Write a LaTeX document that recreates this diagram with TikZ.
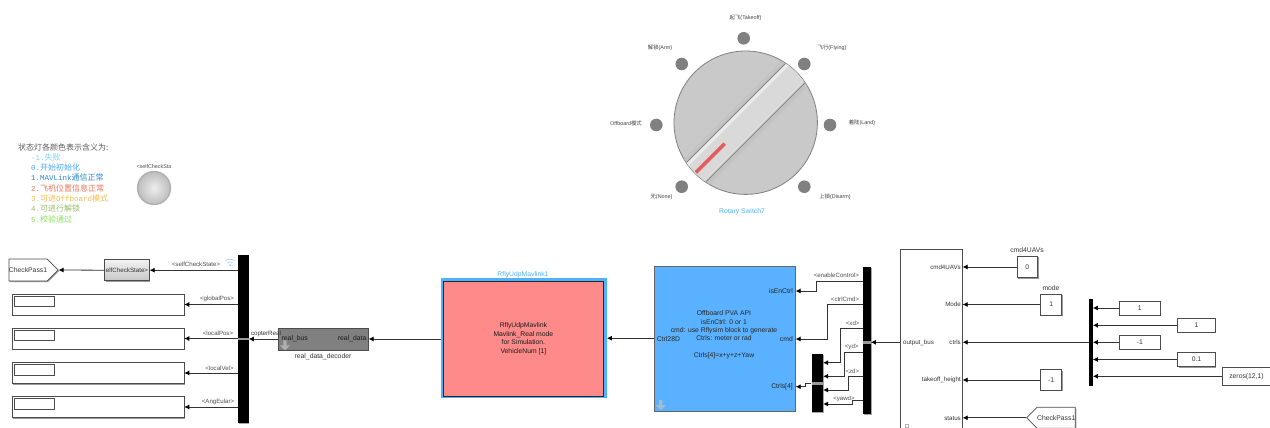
\documentclass[tikz,border=0pt]{standalone}
\usepackage{fontspec}
\setmainfont{Liberation Sans}
\setmonofont{Liberation Mono}
\newfontfamily\cjk{Noto Sans CJK SC}
\usetikzlibrary{arrows.meta,shapes.symbols,shapes.arrows,shadows}
\newcommand{\lblfont}{\fontsize{6.8}{8.4}\selectfont}
\newcommand{\sigfont}{\fontsize{6.1}{7}\selectfont}
\newcommand{\tinyfont}{\fontsize{5.4}{6.5}\selectfont}
\newcommand{\legendfont}{\fontsize{7.5}{8}\selectfont\ttfamily}
\newcommand{\zh}[1]{{\cjk\fontsize{8}{8}\selectfont #1}}
\newcommand{\zhs}[1]{{\cjk\fontsize{5.4}{6}\selectfont #1}}
\definecolor{hiblue}{HTML}{4DB2FF}
\definecolor{blockblue}{HTML}{5AB1FF}
\definecolor{blockred}{HTML}{FF8A8A}
\definecolor{wirecol}{HTML}{333333}
\definecolor{legA}{HTML}{7FD0F0}
\definecolor{legB}{HTML}{45A8FF}
\definecolor{legC}{HTML}{2A86D8}
\definecolor{legD}{HTML}{E2745A}
\definecolor{legE}{HTML}{F2BC4E}
\definecolor{legF}{HTML}{93BC66}
\definecolor{legG}{HTML}{84E056}
\begin{document}
\begin{tikzpicture}[x=1pt, y=-1pt, font=\lblfont, text=black!80,
  sz/.style 2 args={minimum width=#1, minimum height=#2, inner sep=0pt},
  blk/.style={draw=black!70, line width=0.7pt, fill=white, drop shadow={shadow xshift=1pt, shadow yshift=-1pt, fill=black!40, opacity=1}},
  busbar/.style={fill=black, draw=none, drop shadow={shadow xshift=0.8pt, shadow yshift=-0.8pt, fill=black!35, opacity=1}},
  wire/.style={draw=wirecol, line width=0.8pt, -{Latex[length=5pt, width=5pt, black]}},
  sig/.style={font=\sigfont, inner sep=0pt, text=black!70},
  legend/.style={anchor=west, inner sep=0pt, font=\legendfont},
  dot/.style={circle, fill=black!50, minimum size=12.6pt, inner sep=0pt},
  dial/.style={font=\tinyfont, inner sep=0pt, text=black!75},
  portbar/.style={fill=black!40, draw=none, minimum width=10.6pt, minimum height=2.8pt, inner sep=0pt},
  downicon/.style={single arrow, shape border rotate=270, fill=black!25, fill opacity=0.75, minimum width=10pt, minimum height=10pt, inner sep=0.5pt, single arrow head extend=1.5pt}]
\clip (0,0) rectangle (1270,428);

\node[legend, text=black!65] (legTitle) at (18,147) {\zh{状态灯各颜色表示含义为:}};
\node[legend, text=legA] (legOne) at (31,157) {-1.\zh{失败}};
\node[legend, text=legB] (legTwo) at (31,167.5) {0.\zh{开始初始化}};
\node[legend, text=legC] (legThree) at (31,177.5) {1.MAVLink\zh{通信正常}};
\node[legend, text=legD] (legFour) at (31,188) {2.\zh{飞机位置信息正常}};
\node[legend, text=legE] (legFive) at (31,198) {3.\zh{可进}Offboard\zh{模式}};
\node[legend, text=legF] (legSix) at (31,208.5) {4.\zh{可进行解锁}};
\node[legend, text=legG] (legSeven) at (31,219) {5.\zh{校验通过}};
\node[circle, inner color=black!7, outer color=black!26, draw=black!32, line width=1.2pt, minimum size=33pt, inner sep=0pt] (lamp) at (154,188) {};
\node[sig, font=\tinyfont] (lampLabel) at (154,166.7) {<selfCheckSta};

\node[circle, draw=black!50, line width=0.8pt, fill=black!21, minimum size=143.4pt, inner sep=0pt] (disk) at (745.7,122.7) {};
\begin{scope}
\clip (745.7,122.7) circle[radius=71.3];
\begin{scope}[shift={(745.7,122.7)}, rotate=45]
\fill[black!24] (-80,-18) rectangle (80,18);
\fill[black!15] (-80,-13.7) rectangle (80,13.7);
\fill[black!8] (-80,-13.7) rectangle (80,-10);
\draw[black!48, line width=0.8pt] (-80,13.7) -- (80,13.7) (-80,-13.7) -- (80,-13.7);
\draw[draw=red!60!white!90!black, line width=3.6pt] (-70.5,0) -- (-29.7,0);
\end{scope}
\end{scope}
\node[dot] (dotTakeoff) at (743.7,38.3) {};
\node[dot] (dotFlying) at (804.3,64) {};
\node[dot] (dotLand) at (830,125) {};
\node[dot] (dotDisarm) at (804.3,186.7) {};
\node[dot] (dotNone) at (681.7,186.7) {};
\node[dot] (dotOffboard) at (656.3,125) {};
\node[dot] (dotArm) at (681.7,64) {};
\node[dial] (lblTakeoff) at (745.5,17.5) {\zhs{起飞}(Takeoff)};
\node[dial] (lblFlying) at (832,48) {\zhs{飞行}(Flying)};
\node[dial] (lblLand) at (862,123) {\zhs{着陆}(Land)};
\node[dial] (lblDisarm) at (835,197) {\zhs{上锁}(Disarm)};
\node[dial] (lblNone) at (661.5,197) {\zhs{无}(None)};
\node[dial] (lblOffboard) at (626,123) {Offboard\zhs{模式}};
\node[dial] (lblArm) at (660,48) {\zhs{解锁}(Arm)};
\node[inner sep=0pt, text=hiblue] (lblRotary) at (742,212) {Rotary Switch7};

\node[busbar, sz={10.6pt}{167.7pt}] (busCopter) at (243.3,338.9) {};
\node[portbar] (portCopter) at (243.3,339) {};
\node[blk, signal, signal to=east, sz={48pt}{22pt}, font=\lblfont] (gotoPass) at (28,270) {CheckPass1};
\node[blk, sz={44.6pt}{21pt}, top color=black!5, bottom color=black!22, font=\fontsize{6.2}{7}\selectfont] (selfState) at (127,270.2) {elfCheckState>};
\node[blk, sz={171.5pt}{21pt}] (dispGlobal) at (98.2,304.5) {};
\node[blk, sz={171.5pt}{21pt}] (dispLocal) at (98.2,338.5) {};
\node[blk, sz={171.5pt}{21pt}] (dispVel) at (98.2,373) {};
\node[blk, sz={171.5pt}{21pt}] (dispEuler) at (98.2,407) {};
\foreach \d/\y in {Global/301.3, Local/335.3, Vel/369.8, Euler/403.8}
  \node[draw=black!70, line width=0.7pt, fill=white, sz={39.5pt}{10.5pt}] (box\d) at (34.3,\y) {};
\draw[wire] (selfState.west) -- (gotoPass.east);
\draw[wire] (busCopter.west |- selfState.east) -- (selfState.east);
\draw[wire] (busCopter.west |- dispGlobal.east) -- (dispGlobal.east);
\draw[wire] (busCopter.west |- dispLocal.east) -- (dispLocal.east);
\draw[wire] (busCopter.west |- dispVel.east) -- (dispVel.east);
\draw[wire] (busCopter.west |- dispEuler.east) -- (dispEuler.east);
\node[sig] (lblSelfState) at (196,264.5) {<selfCheckState>};
\node[sig] (lblGlobal) at (217,299) {<globalPos>};
\node[sig] (lblLocal) at (218,333.5) {<localPos>};
\node[sig] (lblVel) at (219.5,368) {<localVel>};
\node[sig] (lblEuler) at (218,402) {<AngEular>};
\fill[hiblue!60] (230,265.3) circle[radius=1.1];
\draw[hiblue!60, line width=0.6pt] (227.5,262.8) .. controls (229,261.5) and (231,261.5) .. (232.5,262.8)
  (225.5,260.8) .. controls (228,258.7) and (232,258.7) .. (234.5,260.8);

\node[blk, fill=black!50, sz={89.6pt}{22pt}] (decoder) at (323.5,339) {};
\node[downicon] (iconDecoder) at (285,344.5) {};
\node[anchor=west, inner sep=0pt, text=black!90] (portBus) at (281.5,339) {real\_bus};
\node[anchor=east, inner sep=0pt, text=black!90] (portData) at (366.5,339) {real\_data};
\node[inner sep=0pt] (lblDecoder) at (323,356.5) {real\_data\_decoder};
\node[inner sep=0pt, font=\fontsize{6.2}{7}\selectfont] (lblCopter) at (266,334) {copterReal};
\draw[wire] (decoder.west) -- (busCopter.east |- decoder.west);

\node[fill=hiblue, sz={166pt}{119.7pt}] (redHi) at (523.7,338.2) {};
\node[draw=black!85, line width=0.7pt, fill=blockred, sz={160.6pt}{115.4pt}, align=center, text=black!90] (redBlock) at (523.4,338.7) {RflyUdpMavlink\\Mavlink\_Real mode\\for Simulation.\\VehicleNum [1]};
\node[inner sep=0pt, text=hiblue] (lblRed) at (523,274.5) {RflyUdpMavlink1};
\draw[wire] (redHi.west |- decoder.east) -- (decoder.east);

\node[blk, draw=black!60, fill=blockblue, sz={140.6pt}{144.3pt}] (blueBlock) at (725,338.9) {};
\node[align=center, inner sep=0pt, text=black!85] (blueText) at (724,335) {Offboard PVA API\\isEnCtrl: 0 or 1\\cmd: use Rflysim block to generate\\Ctrls: meter or rad\\[8.4pt]Ctrls[4]=x+y+z+Yaw};
\node[downicon] (iconBlue) at (660.7,404.3) {};
\node[anchor=east, inner sep=0pt, text=black!85] (portEn) at (793,291) {isEnCtrl};
\node[anchor=east, inner sep=0pt, text=black!85] (portCmd) at (793,339) {cmd};
\node[anchor=east, inner sep=0pt, text=black!85] (portCtrls) at (793,386.7) {Ctrls[4]};
\node[anchor=west, inner sep=0pt, text=black!85] (portCtrl) at (656.7,339) {Ctrl28D};
\draw[wire] (blueBlock.west |- redHi.east) -- (redHi.east);

\node[busbar, sz={8pt}{146.4pt}] (busCmd) at (866.7,340.5) {};
\node[portbar, minimum width=8pt] (portBusCmd) at (866.7,342.3) {};
\node[busbar, sz={11.3pt}{58pt}] (busVec) at (817.3,383.3) {};
\node[portbar, minimum width=11.3pt] (portBusVec) at (817.3,383.3) {};
\coordinate (outEn) at (busCmd.west |- 0,281);
\coordinate (outCmd) at (busCmd.west |- 0,304.7);
\coordinate (outXd) at (busCmd.west |- 0,328.7);
\coordinate (outYd) at (busCmd.west |- 0,352.7);
\coordinate (outZd) at (busCmd.west |- 0,376.7);
\coordinate (outYaw) at (busCmd.west |- 0,400);
\coordinate (inEn) at (blueBlock.east |- portEn.east);
\coordinate (inCmd) at (blueBlock.east |- portCmd.east);
\coordinate (inCtrls) at (blueBlock.east |- portCtrls.east);
\coordinate (inXd) at (busVec.east |- 0,362.7);
\coordinate (inYd) at (busVec.east |- 0,376.3);
\coordinate (inZd) at (busVec.east |- 0,390);
\coordinate (inYaw) at (busVec.east |- 0,404);
\draw[wire] (outEn) -- ++(-45.7,0) |- (inEn);
\draw[wire] (outCmd) -- ++(-35,0) |- (inCmd);
\draw[wire] (outXd) -- ++(-21.7,0) |- (inXd);
\draw[wire] (outYd) -- ++(-18.4,0) |- (inYd);
\draw[wire] (outZd) -- ++(-14.4,0) |- (inZd);
\draw[wire] (outYaw) -- ++(-10,0) |- (inYaw);
\draw[wire] (busVec.west) -- ++(-6,0) |- (inCtrls);
\node[sig] (lblEn) at (836.3,275.7) {<enableControl>};
\node[sig] (lblCmd) at (845,299) {<ctrlCmd>};
\node[sig] (lblXd) at (852.7,323.3) {<xd>};
\node[sig] (lblYd) at (851.7,347.3) {<yd>};
\node[sig] (lblZd) at (852.3,371.3) {<zd>};
\node[sig] (lblYaw) at (844,398.7) {<yawd>};

\node[blk, sz={61.6pt}{190pt}] (outBlock) at (931.5,344.3) {};
\node[anchor=west, inner sep=0pt, font=\fontsize{6.2}{7}\selectfont] (portOut) at (903,342.5) {output\_bus};
\node[anchor=east, inner sep=0pt, font=\fontsize{6.2}{7}\selectfont] (portUavs) at (961,267.3) {cmd4UAVs};
\node[anchor=east, inner sep=0pt, font=\fontsize{6.2}{7}\selectfont] (portMode) at (961,304.3) {Mode};
\node[anchor=east, inner sep=0pt, font=\fontsize{6.2}{7}\selectfont] (portCtrlsIn) at (961,342.5) {ctrls};
\node[anchor=east, inner sep=0pt, font=\fontsize{6.2}{7}\selectfont] (portHeight) at (961,380) {takeoff\_height};
\node[anchor=east, inner sep=0pt, font=\fontsize{6.2}{7}\selectfont] (portStatus) at (961,418.3) {status};
\node[draw=black!30, line width=0.5pt, minimum size=2.6pt, inner sep=0pt] (iconOut) at (907,425.5) {};
\draw[wire] (outBlock.west |- portBusCmd.east) -- (portBusCmd.east);

\node[blk, sz={20.7pt}{21.4pt}] (constUavs) at (1027.3,267) {0};
\node[inner sep=0pt] (lblUavs) at (1027,250) {cmd4UAVs};
\node[blk, sz={21pt}{21pt}] (constMode) at (1051.2,304.5) {1};
\node[inner sep=0pt] (lblMode) at (1051,288) {mode};
\node[blk, sz={21pt}{20.6pt}] (constHeight) at (1051.2,380) {-1};
\node[blk, signal, signal to=west, sz={47.7pt}{21pt}] (fromPass) at (1056.2,417.8) {CheckPass1};
\draw[wire] (constUavs.west) -- (outBlock.east |- constUavs.west);
\draw[wire] (constMode.west) -- (outBlock.east |- constMode.west);
\draw[wire] (constHeight.west) -- (outBlock.east |- constHeight.west);
\draw[wire] (fromPass.west) -- (outBlock.east |- fromPass.west);

\node[fill=black, sz={4pt}{86.7pt}] (muxBar) at (1090.7,342.3) {};
\node[blk, sz={41pt}{14.3pt}] (constA) at (1139.8,308) {1};
\node[blk, sz={37.6pt}{14pt}] (constB) at (1196.5,325.3) {1};
\node[blk, sz={41pt}{14pt}] (constC) at (1139.8,342.3) {-1};
\node[blk, sz={37.6pt}{14.4pt}] (constD) at (1196.5,359.5) {0.1};
\node[blk, sz={47.7pt}{18pt}] (constE) at (1246.5,376.3) {zeros(12,1)};
\draw[wire] (constA.west) -- (muxBar.east |- constA.west);
\draw[wire] (constB.west) -- (muxBar.east |- constB.west);
\draw[wire] (constC.west) -- (muxBar.east |- constC.west);
\draw[wire] (constD.west) -- (muxBar.east |- constD.west);
\draw[wire] (constE.west) -- (muxBar.east |- constE.west);
\draw[wire] (muxBar.west) -- (outBlock.east |- muxBar.west);
\end{tikzpicture}
\end{document}
